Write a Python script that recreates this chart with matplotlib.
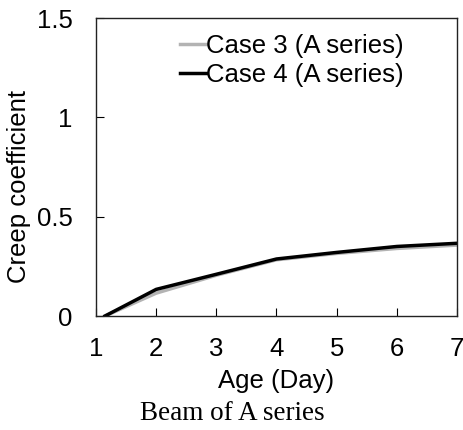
import numpy as np
import matplotlib.pyplot as plt

plt.rcParams['font.family'] = ['Liberation Sans', 'DejaVu Sans']

# Creep coefficient vs age for the A-series beams
age = [1.15, 2, 3, 4, 5, 6, 7]
case3 = [0.0, 0.115, 0.205, 0.283, 0.315, 0.340, 0.357]
case4 = [0.0, 0.134, 0.210, 0.287, 0.320, 0.350, 0.366]

x_ticks = [1, 2, 3, 4, 5, 6, 7]
y_ticks = [0, 0.5, 1, 1.5]
y_tick_labels = ['0', '0.5', '1', '1.5']

fig = plt.figure(figsize=(4.64, 4.30), dpi=100)
ax = fig.add_axes([96 / 464, 1 - 316 / 430, (457 - 96) / 464, (316 - 18) / 430])

ax.plot(age, case3, color='#b3b3b3', lw=2.5, label='Case 3 (A series)')
ax.plot(age, case4, color='black', lw=2.5, label='Case 4 (A series)')

ax.set_xlim(1, 7)
ax.set_ylim(0, 1.5)
ax.set_xticks(x_ticks)
ax.set_yticks(y_ticks)
ax.set_yticklabels(y_tick_labels)
ax.tick_params(direction='in', length=6, width=0.8, labelsize=18.5)
ax.tick_params(axis='x', pad=15)
ax.tick_params(axis='y', pad=17)
for sp in ax.spines.values():
    sp.set_linewidth(1.0)
    sp.set_color('#222222')

ax.set_xlabel('Age (Day)', fontsize=18.5, labelpad=6)
ax.set_ylabel('Creep coefficient', fontsize=18.5)
ax.yaxis.set_label_coords(-0.18, 0.435)

ax.legend(loc='upper left', bbox_to_anchor=(0.233, 0.945), frameon=False,
          fontsize=18.5, handlelength=1.0, handletextpad=0.0,
          labelspacing=0.17, borderaxespad=0, borderpad=0)

fig.text(0.5, 1 - 414 / 430, 'Beam of A series', ha='center', va='center',
         fontsize=19.5, family=['Liberation Serif', 'DejaVu Serif'])

fig.savefig('out.png', dpi=100)
